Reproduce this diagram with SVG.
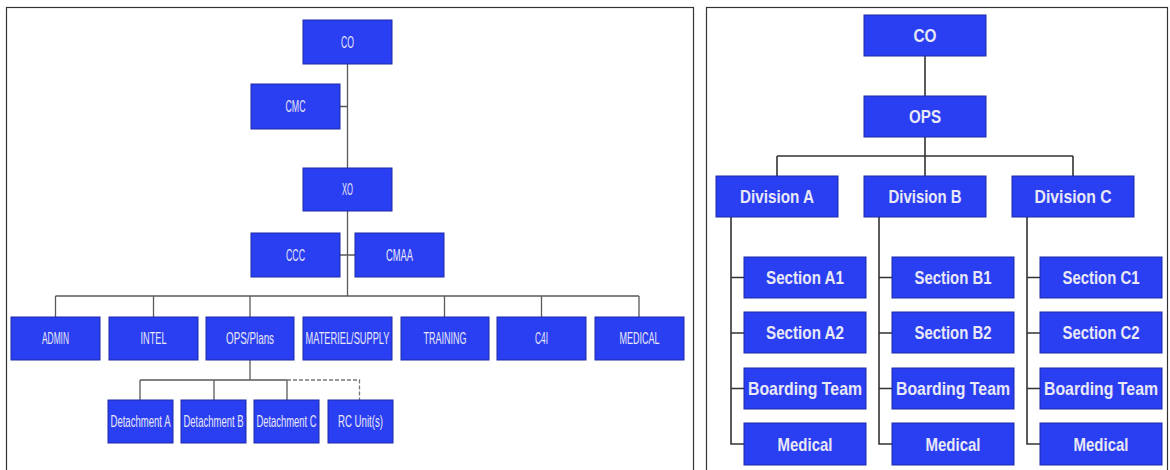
<svg xmlns="http://www.w3.org/2000/svg" width="1170" height="470" viewBox="0 0 1170 470">
<style>
.bx{fill:#2b3ff2;stroke:#1c2aa8;stroke-width:1}
.tl{font-family:"Liberation Sans",Arial,sans-serif;font-size:9px;fill:#e8e8f6;text-anchor:middle}
.tr{font-family:"Liberation Sans",Arial,sans-serif;font-size:15px;font-weight:bold;fill:#e8e8f6;text-anchor:middle}
.ln{stroke:#5a5a5a;stroke-width:1.3;fill:none}
.lr{stroke:#333;stroke-width:1.6;fill:none}
.dash{stroke:#777;stroke-width:1.3;fill:none;stroke-dasharray:4 2}
.frame{fill:#fff;stroke:#333;stroke-width:1.2}
</style>
<rect width="1170" height="470" fill="#fff"/>
<rect class="frame" x="6.5" y="7.5" width="687" height="470"/>
<rect class="frame" x="706.5" y="7.5" width="461" height="470"/>

<g id="connectors">
  <path class="ln" d="M347.5 64V296M340 106.5H347.5M339.5 255H355"/>
  <path class="ln" d="M55.5 296H639M55.5 296V317M153.5 296V317M250 296V317M444.5 296V317M541.5 296V317M639 296V317"/>
  <path class="ln" d="M250 360V380M140 380H287M140 380V400M214 380V400M287 380V400"/>
  <path class="dash" d="M287 380H359.5V400"/>
  <path class="lr" d="M925 56V96M925 137V156M777 156H1073M777 156V176M925 156V176M1073 156V176"/>
  <path class="lr" d="M731 217V444H744M731 277.5H744M731 333H744M731 388.5H744"/>
  <path class="lr" d="M879 217V444H892M879 277.5H892M879 333H892M879 388.5H892"/>
  <path class="lr" d="M1027 217V444H1040M1027 277.5H1040M1027 333H1040M1027 388.5H1040"/>
</g>

<g id="n-co"><rect class="bx" x="303" y="20" width="89" height="44"/><text class="tl" transform="translate(347.5 47.8) scale(1 1.8)" textLength="13" lengthAdjust="spacingAndGlyphs">CO</text></g>
<g id="n-cmc"><rect class="bx" x="251" y="84" width="89" height="45"/><text class="tl" transform="translate(295.5 112.3) scale(1 1.8)" textLength="20" lengthAdjust="spacingAndGlyphs">CMC</text></g>
<g id="n-xo"><rect class="bx" x="303" y="168" width="89" height="43"/><text class="tl" transform="translate(347.5 195.3) scale(1 1.8)" textLength="11" lengthAdjust="spacingAndGlyphs">XO</text></g>
<g id="n-ccc"><rect class="bx" x="251" y="233" width="89" height="44"/><text class="tl" transform="translate(295.5 260.8) scale(1 1.8)" textLength="19" lengthAdjust="spacingAndGlyphs">CCC</text></g>
<g id="n-cmaa"><rect class="bx" x="355" y="233" width="89" height="44"/><text class="tl" transform="translate(399.5 260.8) scale(1 1.8)" textLength="27" lengthAdjust="spacingAndGlyphs">CMAA</text></g>

<g id="n-admin"><rect class="bx" x="11" y="317" width="89" height="43"/><text class="tl" transform="translate(55.5 344.3) scale(1 1.8)" textLength="27" lengthAdjust="spacingAndGlyphs">ADMIN</text></g>
<g id="n-intel"><rect class="bx" x="109" y="317" width="89" height="43"/><text class="tl" transform="translate(153.5 344.3) scale(1 1.8)" textLength="26" lengthAdjust="spacingAndGlyphs">INTEL</text></g>
<g id="n-opsplans"><rect class="bx" x="206" y="317" width="88" height="43"/><text class="tl" transform="translate(250 344.3) scale(1 1.8)" textLength="48" lengthAdjust="spacingAndGlyphs">OPS/Plans</text></g>
<g id="n-materiel"><rect class="bx" x="303" y="317" width="89" height="43"/><text class="tl" transform="translate(347.5 344.3) scale(1 1.8)" textLength="84" lengthAdjust="spacingAndGlyphs">MATERIEL/SUPPLY</text></g>
<g id="n-training"><rect class="bx" x="401" y="317" width="88" height="43"/><text class="tl" transform="translate(445 344.3) scale(1 1.8)" textLength="43" lengthAdjust="spacingAndGlyphs">TRAINING</text></g>
<g id="n-c4i"><rect class="bx" x="497" y="317" width="89" height="43"/><text class="tl" transform="translate(541.5 344.3) scale(1 1.8)" textLength="13" lengthAdjust="spacingAndGlyphs">C4I</text></g>
<g id="n-medical"><rect class="bx" x="595" y="317" width="89" height="43"/><text class="tl" transform="translate(639.5 344.3) scale(1 1.8)" textLength="40" lengthAdjust="spacingAndGlyphs">MEDICAL</text></g>

<g id="n-deta"><rect class="bx" x="108" y="400" width="65" height="43"/><text class="tl" transform="translate(140.5 427.3) scale(1 1.8)" textLength="60" lengthAdjust="spacingAndGlyphs">Detachment A</text></g>
<g id="n-detb"><rect class="bx" x="181" y="400" width="65" height="43"/><text class="tl" transform="translate(213.5 427.3) scale(1 1.8)" textLength="60" lengthAdjust="spacingAndGlyphs">Detachment B</text></g>
<g id="n-detc"><rect class="bx" x="254" y="400" width="65" height="43"/><text class="tl" transform="translate(286.5 427.3) scale(1 1.8)" textLength="60" lengthAdjust="spacingAndGlyphs">Detachment C</text></g>
<g id="n-rc"><rect class="bx" x="328" y="400" width="65" height="43"/><text class="tl" transform="translate(360.5 427.3) scale(1 1.8)" textLength="45" lengthAdjust="spacingAndGlyphs">RC Unit(s)</text></g>

<g id="r-co"><rect class="bx" x="864" y="15" width="122" height="41"/><text class="tr" transform="translate(925 42) scale(1 1.2)" textLength="23" lengthAdjust="spacingAndGlyphs">CO</text></g>
<g id="r-ops"><rect class="bx" x="864" y="96" width="122" height="41"/><text class="tr" transform="translate(925 123) scale(1 1.2)" textLength="32" lengthAdjust="spacingAndGlyphs">OPS</text></g>
<g id="r-diva"><rect class="bx" x="716" y="176" width="122" height="41"/><text class="tr" transform="translate(777 203) scale(1 1.2)" textLength="74" lengthAdjust="spacingAndGlyphs">Division A</text></g>
<g id="r-divb"><rect class="bx" x="864" y="176" width="122" height="41"/><text class="tr" transform="translate(925 203) scale(1 1.2)" textLength="73" lengthAdjust="spacingAndGlyphs">Division B</text></g>
<g id="r-divc"><rect class="bx" x="1012" y="176" width="122" height="41"/><text class="tr" transform="translate(1073 203) scale(1 1.2)" textLength="77" lengthAdjust="spacingAndGlyphs">Division C</text></g>

<g id="r-a1"><rect class="bx" x="744" y="257" width="122" height="41"/><text class="tr" transform="translate(805 284) scale(1 1.2)" textLength="78" lengthAdjust="spacingAndGlyphs">Section A1</text></g>
<g id="r-a2"><rect class="bx" x="744" y="312" width="122" height="41"/><text class="tr" transform="translate(805 339) scale(1 1.2)" textLength="78" lengthAdjust="spacingAndGlyphs">Section A2</text></g>
<g id="r-abt"><rect class="bx" x="744" y="368" width="122" height="41"/><text class="tr" transform="translate(805 395) scale(1 1.2)" textLength="114" lengthAdjust="spacingAndGlyphs">Boarding Team</text></g>
<g id="r-amed"><rect class="bx" x="744" y="423" width="122" height="42"/><text class="tr" transform="translate(805 450.5) scale(1 1.2)" textLength="55" lengthAdjust="spacingAndGlyphs">Medical</text></g>

<g id="r-b1"><rect class="bx" x="892" y="257" width="122" height="41"/><text class="tr" transform="translate(953 284) scale(1 1.2)" textLength="77" lengthAdjust="spacingAndGlyphs">Section B1</text></g>
<g id="r-b2"><rect class="bx" x="892" y="312" width="122" height="41"/><text class="tr" transform="translate(953 339) scale(1 1.2)" textLength="77" lengthAdjust="spacingAndGlyphs">Section B2</text></g>
<g id="r-bbt"><rect class="bx" x="892" y="368" width="122" height="41"/><text class="tr" transform="translate(953 395) scale(1 1.2)" textLength="114" lengthAdjust="spacingAndGlyphs">Boarding Team</text></g>
<g id="r-bmed"><rect class="bx" x="892" y="423" width="122" height="42"/><text class="tr" transform="translate(953 450.5) scale(1 1.2)" textLength="55" lengthAdjust="spacingAndGlyphs">Medical</text></g>

<g id="r-c1"><rect class="bx" x="1040" y="257" width="122" height="41"/><text class="tr" transform="translate(1101 284) scale(1 1.2)" textLength="77" lengthAdjust="spacingAndGlyphs">Section C1</text></g>
<g id="r-c2"><rect class="bx" x="1040" y="312" width="122" height="41"/><text class="tr" transform="translate(1101 339) scale(1 1.2)" textLength="77" lengthAdjust="spacingAndGlyphs">Section C2</text></g>
<g id="r-cbt"><rect class="bx" x="1040" y="368" width="122" height="41"/><text class="tr" transform="translate(1101 395) scale(1 1.2)" textLength="114" lengthAdjust="spacingAndGlyphs">Boarding Team</text></g>
<g id="r-cmed"><rect class="bx" x="1040" y="423" width="122" height="42"/><text class="tr" transform="translate(1101 450.5) scale(1 1.2)" textLength="55" lengthAdjust="spacingAndGlyphs">Medical</text></g>
</svg>
